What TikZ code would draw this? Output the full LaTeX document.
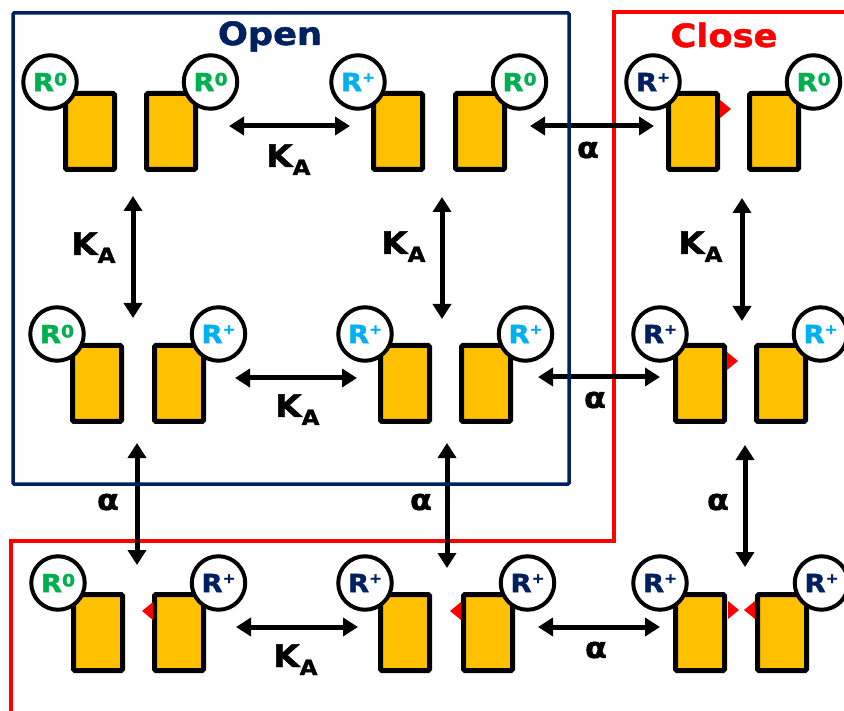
\documentclass[tikz,border=0pt]{standalone}
\usepackage{fontspec}
\setmainfont{DejaVu Sans}
\newfontfamily\heavy[FakeStretch=1.1,FakeBold=1.5]{DejaVu Sans Bold}
\usetikzlibrary{arrows.meta}
\definecolor{gold}{HTML}{FFC000}
\definecolor{rgreen}{HTML}{00B050}
\definecolor{rlblue}{HTML}{00B0F0}
\definecolor{rnavy}{HTML}{002060}
\definecolor{rred}{HTML}{FF0000}
\newcommand\Rzero{\textcolor{rgreen}{\heavy\fontsize{25}{25}\selectfont R\raisebox{5.8pt}{\fontsize{17}{17}\selectfont 0}}}
\newcommand\Rplus[1]{\textcolor{#1}{\heavy\fontsize{25}{25}\selectfont R\raisebox{9pt}{\fontsize{14}{14}\selectfont +}}}
\newcommand\KAlbl{{\heavy\fontsize{31}{31}\selectfont K\raisebox{-8pt}{\fontsize{21}{21}\selectfont A}}}
\newcommand\mkcell[6]{%
  \node[blk] (#1l) at ({#2+27},{#4+40.5}) {};
  \node[blk] (#1r) at ({#3+27},{#4+40.5}) {};
  \node[lig] (#1a) at ({#2-13},{#4-9}) {#5};
  \node[lig] (#1b) at ({#3+66.5},{#4-9}) {#6};
}
\begin{document}
\begin{tikzpicture}[x=1pt,y=-1pt,
  blk/.style={draw=black, fill=gold, line width=5pt, minimum width=49pt, minimum height=76pt, inner sep=0pt, rounded corners=1.5pt},
  lig/.style={circle, draw=black, fill=white, line width=4pt, minimum size=53.5pt, inner sep=0pt},
  arr/.style={line width=5pt, {Triangle[length=15pt,width=18pt]}-{Triangle[length=15pt,width=18pt]}},
  ka/.style={inner sep=0pt, anchor=base west},
  al/.style={inner sep=0pt, font=\heavy\fontsize{29}{29}\selectfont},
  ttl/.style={inner sep=0pt, anchor=base, font=\heavy\fontsize{32}{32}\selectfont}
]
\useasboundingbox (0,0) rectangle (844,711);
\clip (0,0) rectangle (844,711);

% Close frame
\draw[rred, line width=4pt] (850,12) -- (613.5,12) -- (613.5,541) -- (10.5,541) -- (10.5,720);

% arrow end points
\coordinate (h1a) at (229,126); \coordinate (h1b) at (350,126);
\coordinate (h2a) at (530,126); \coordinate (h2b) at (654,126);
\coordinate (h3a) at (235,378); \coordinate (h3b) at (357,378);
\coordinate (h4a) at (538,377); \coordinate (h4b) at (660,377);
\coordinate (h5a) at (236,627); \coordinate (h5b) at (358,627);
\coordinate (h6a) at (538,627); \coordinate (h6b) at (660,627);
\coordinate (v1a) at (133,196); \coordinate (v1b) at (133,318);
\coordinate (v2a) at (442,197); \coordinate (v2b) at (442,319);
\coordinate (v3a) at (742,198); \coordinate (v3b) at (742,321);
\coordinate (v4a) at (137,443); \coordinate (v4b) at (137,565);
\coordinate (v5a) at (447,443); \coordinate (v5b) at (447,568);
\coordinate (v6a) at (745,445); \coordinate (v6b) at (745,567);

\foreach \p in {h1,h2,h3,h4,h5,h6,v1,v2,v3,v4,v5,v6}
  \draw[arr] (\p a) -- (\p b);

% Open frame
\draw[rnavy, line width=3.5pt, rounded corners=1pt] (13,13) rectangle (569,484);

% titles
\node[ttl, text=rnavy] (open) at (270,45) {Open};
\node[ttl, text=rred] (close) at (724,47) {Close};

% rate labels
\node[ka] (k1) at (266,167) {\KAlbl};
\node[ka] (k2) at (71,255) {\KAlbl};
\node[ka] (k3) at (381,254) {\KAlbl};
\node[ka] (k4) at (678,254) {\KAlbl};
\node[ka] (k5) at (275,417) {\KAlbl};
\node[ka] (k6) at (273,667) {\KAlbl};
\node[al] (a1) at (588,150) {α};
\node[al] (a2) at (595,400) {α};
\node[al] (a3) at (596,650) {α};
\node[al] (a4) at (108,502) {α};
\node[al] (a5) at (421,502) {α};
\node[al] (a6) at (718,502) {α};

% cells
\mkcell{c11}{63}{144}{91}{\Rzero}{\Rzero}
\mkcell{c12}{371}{453}{91}{\Rplus{rlblue}}{\Rzero}
\mkcell{c13}{666}{747}{91}{\Rplus{rnavy}}{\Rzero}
\mkcell{c21}{70}{152}{343}{\Rzero}{\Rplus{rlblue}}
\mkcell{c22}{378}{459}{343}{\Rplus{rlblue}}{\Rplus{rlblue}}
\mkcell{c23}{673}{754}{343}{\Rplus{rnavy}}{\Rplus{rlblue}}
\mkcell{c31}{71}{152}{592}{\Rzero}{\Rplus{rnavy}}
\mkcell{c32}{378}{461}{592}{\Rplus{rnavy}}{\Rplus{rnavy}}
\mkcell{c33}{673}{755}{592}{\Rplus{rnavy}}{\Rplus{rnavy}}

% red markers
\fill[rred] (720,100) -- (731,109) -- (720,118) -- cycle;
\fill[rred] (727,352) -- (738,361) -- (727,370) -- cycle;
\fill[rred] (153,602) -- (142,611) -- (153,620) -- cycle;
\fill[rred] (461,602) -- (450,611) -- (461,620) -- cycle;
\fill[rred] (728,601) -- (739,610) -- (728,619) -- cycle;
\fill[rred] (755,601) -- (744,610) -- (755,619) -- cycle;
\end{tikzpicture}
\end{document}
